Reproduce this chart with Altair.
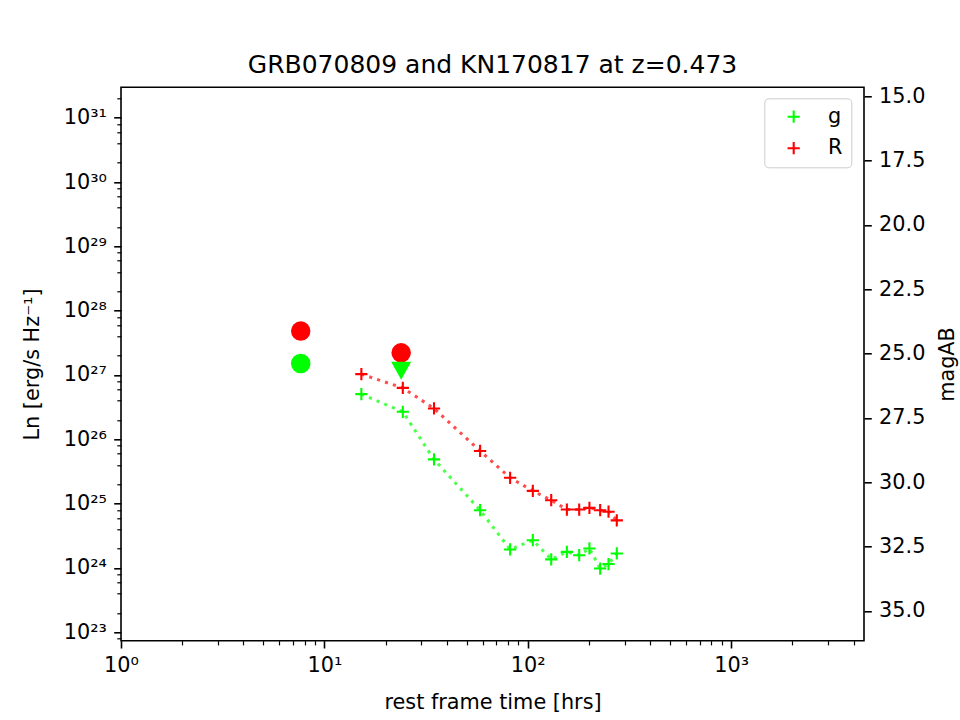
import math
import altair as alt
import pandas as pd

# ---------------- data ----------------
bands = ["g", "R"]
band_colors = ["#00ff00", "#ff0000"]

# KN170817 shifted to z=0.473 (rest-frame hours, Ln in erg/s/Hz)
t_kn = [15.2, 24.3, 34.6, 58.3, 81.9, 105.9, 130.4, 155.7, 179.0, 201.0, 227.0, 249.5, 274.0]
L_kn_g = [5.05e26, 2.68e26, 4.87e25, 7.9e24, 1.94e24, 2.7e24, 1.36e24, 1.78e24,
          1.58e24, 2.01e24, 9.8e23, 1.15e24, 1.68e24]
L_kn_R = [1.03e27, 6.3e26, 3.02e26, 6.6e25, 2.52e25, 1.58e25, 1.13e25, 8.1e24,
          8.1e24, 8.6e24, 7.9e24, 7.5e24, 5.5e24]

# GRB070809 detections and upper limit
t_grb_det = [7.65, 7.65, 23.85]
L_grb_det = [4.82e27, 1.51e27, 2.21e27]
band_grb_det = ["R", "g", "R"]
t_grb_ul = [23.85]
L_grb_ul = [1.16e27]
band_grb_ul = ["g"]

# axes
x_domain = [1, 4500]
y_domain = [7.4e22, 2.97e31]
x_major = [1, 10, 100, 1000]
x_minor = [m * 10 ** e for e in range(0, 4) for m in range(2, 10) if m * 10 ** e <= 4500]
y_major_exp = list(range(23, 32))
y_major = [10.0 ** e for e in y_major_exp]
y_minor = [m * 10.0 ** e for e in range(22, 32) for m in (2, 4, 6, 8)
           if y_domain[0] <= m * 10.0 ** e <= y_domain[1]]
mag_zero = 93.33  # magAB = mag_zero - 2.5 log10(Ln)
mag_ticks = [15.0, 17.5, 20.0, 22.5, 25.0, 27.5, 30.0, 32.5, 35.0]
mag_domain = [mag_zero - 2.5 * math.log10(y_domain[1]), mag_zero - 2.5 * math.log10(y_domain[0])]

title_text = "GRB070809 and KN170817 at z=0.473"

# ---------------- tables ----------------
df_kn = pd.DataFrame({
    "t": t_kn + t_kn,
    "L": L_kn_g + L_kn_R,
    "band": ["g"] * len(t_kn) + ["R"] * len(t_kn),
})
df_det = pd.DataFrame({"t": t_grb_det, "L": L_grb_det, "band": band_grb_det})
df_ul = pd.DataFrame({"t": t_grb_ul, "L": L_grb_ul, "band": band_grb_ul})
df_mag = pd.DataFrame({"mag": mag_domain})

# ---------------- styling ----------------
FONT = "DejaVu Sans"
FS = 20.8
W, H = 743, 553.4
LEFT, TOP = 121, 87.3
PAD = {"left": LEFT, "top": TOP, "right": 960 - LEFT - W, "bottom": 720 - TOP - H}

sup = str.maketrans("0123456789-", "⁰¹²³⁴⁵⁶⁷⁸⁹⁻")


def pow_expr(exps):
    e = "round(log(datum.value)/LN10)"
    s = "''"
    for k in reversed(exps):
        s = f"{e} == {k} ? '10{str(k).translate(sup)}' : {s}"
    return s


common = dict(
    grid=False, domain=False, tickColor="black", tickWidth=1.6,
    labelFont=FONT, labelFontSize=FS, labelColor="black",
    titleFont=FONT, titleFontSize=FS, titleColor="black", titleFontWeight="normal",
    labelOverlap=False, labelFlush=False, labelBound=False,
)

x_scale = alt.Scale(type="log", domain=x_domain, nice=False)
y_scale = alt.Scale(type="log", domain=y_domain, nice=False)
color_scale = alt.Scale(domain=bands, range=band_colors)

x_major_axis = alt.Axis(orient="bottom", values=x_major, labelExpr=pow_expr([0, 1, 2, 3]),
                        tickSize=7.3, labelPadding=7.3, title="rest frame time [hrs]",
                        titlePadding=17, **common)
y_major_axis = alt.Axis(orient="left", values=y_major, labelExpr=pow_expr(y_major_exp),
                        tickSize=7.3, labelPadding=7.3, title="Ln [erg/s Hz⁻¹]",
                        titlePadding=21, **common)
x_minor_axis = alt.Axis(orient="bottom", values=x_minor, labels=False, tickSize=4.2,
                        tickWidth=1.2, title=None, grid=False, domain=False, tickColor="black")
y_minor_axis = alt.Axis(orient="left", values=y_minor, labels=False, tickSize=4.2,
                        tickWidth=1.2, title=None, grid=False, domain=False, tickColor="black")
mag_axis = alt.Axis(orient="right", values=mag_ticks, format=".1f", tickSize=7.3,
                    labelPadding=7.3, title="magAB", titleAngle=270, titlePadding=33, **common)

cross_path = "M-1,0L1,0M0,-1L0,1"
tri_path = "M-1,-0.9L1,-0.9L0,0.9Z"

lines = alt.Chart(df_kn).mark_line(
    strokeDash=[3.1, 5.2], strokeWidth=3.1, opacity=0.7
).encode(
    x=alt.X("t:Q", scale=x_scale, axis=x_major_axis),
    y=alt.Y("L:Q", scale=y_scale, axis=y_major_axis),
    color=alt.Color("band:N", scale=color_scale, legend=None),
    detail="band:N",
)

crosses = alt.Chart(df_kn).mark_point(
    shape=cross_path, filled=False, size=150, strokeWidth=2.1, opacity=1
).encode(
    x=alt.X("t:Q", scale=x_scale, axis=None),
    y=alt.Y("L:Q", scale=y_scale, axis=None),
    color=alt.Color("band:N", scale=color_scale, legend=alt.Legend(
        title=None, orient="none", legendX=643.3, legendY=11,
        symbolType=cross_path, symbolSize=150, symbolStrokeWidth=2.1,
        labelFont=FONT, labelFontSize=FS, labelColor="black",
        padding=8, rowPadding=9.5, symbolOffset=11, labelOffset=24,
        strokeColor="#cccccc", fillColor="white", cornerRadius=4,
    )),
)

circles = alt.Chart(df_det).mark_point(
    shape="circle", filled=True, size=380, opacity=1
).encode(
    x=alt.X("t:Q", scale=x_scale, axis=None),
    y=alt.Y("L:Q", scale=y_scale, axis=None),
    color=alt.Color("band:N", scale=color_scale, legend=None),
)

upper = alt.Chart(df_ul).mark_point(
    shape=tri_path, filled=True, size=400, opacity=1
).encode(
    x=alt.X("t:Q", scale=x_scale, axis=None),
    y=alt.Y("L:Q", scale=y_scale, axis=None),
    color=alt.Color("band:N", scale=color_scale, legend=None),
)

minor = alt.Chart(df_kn).mark_point(opacity=0).encode(
    x=alt.X("t:Q", scale=x_scale, axis=x_minor_axis),
    y=alt.Y("L:Q", scale=y_scale, axis=y_minor_axis),
)

mag = alt.Chart(df_mag).mark_point(opacity=0).encode(
    y=alt.Y("mag:Q", scale=alt.Scale(domain=mag_domain, reverse=True, nice=False, zero=False),
            axis=mag_axis),
)

chart = alt.layer(minor, lines, crosses, circles, upper, mag).resolve_scale(
    x="independent", y="independent", color="independent"
).resolve_axis(
    x="independent", y="independent"
).resolve_legend(
    color="independent"
).properties(
    width=W, height=H,
    title=alt.TitleParams(text=title_text, font=FONT, fontSize=25, fontWeight="normal",
                          color="black", anchor="middle", offset=7),
    autosize=alt.AutoSizeParams(type="none"),
    padding=PAD,
    background="white",
).configure_view(
    stroke="black", strokeWidth=1.6
)

chart.save("out.html", embed_options={"renderer": "svg", "actions": False})
